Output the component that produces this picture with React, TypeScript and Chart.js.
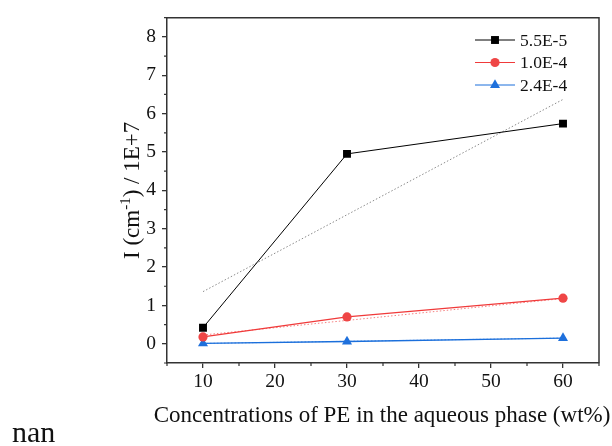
import { useEffect, useRef } from 'react';
import { Chart, registerables } from 'chart.js';

Chart.register(...registerables);

// PE concentration in the aqueous phase (wt%)
const concentrations = [10, 30, 60];
const seriesLabels = ['5.5E-5', '1.0E-4', '2.4E-4'];
// Intensity values, in units of 1E+7 cm^-1
const intensity55E5 = [0.42, 4.95, 5.74];
const intensity10E4 = [0.18, 0.7, 1.19];
const intensity24E4 = [0.01, 0.06, 0.15];
// Linear trend lines (end points)
const fitRange = [10, 60];
const fit55E5 = [1.36, 6.37];
const fit10E4 = [0.23, 1.18];
const fit24E4 = [0.01, 0.15];

const xTickValues = [10, 20, 30, 40, 50, 60];
const xMinorTicks = [5, 15, 25, 35, 45, 55, 65];
const yTickValues = [0, 1, 2, 3, 4, 5, 6, 7, 8];
const yMinorTicks = [-0.5, 0.5, 1.5, 2.5, 3.5, 4.5, 5.5, 6.5, 7.5, 8.5];

const FONT = "'Liberation Serif', 'Times New Roman', serif";
const AXIS = '#333333';
const COLORS = ['#000000', '#F03A3A', '#1B6FDB'];
const MARKER_FILL = ['#000000', '#EF4646', '#1E70DC'];
const FIT_COLORS = ['#8a8a8a', '#F58080', '#6FA3E8'];
const POINT_STYLES = ['rect', 'circle', 'triangle'];
const POINT_RADII = [5.6, 4.6, 5.8];

const toPoints = (xs: number[], ys: number[]) => xs.map((x, i) => ({ x, y: ys[i] }));

function drawMarker(ctx: CanvasRenderingContext2D, style: string, x: number, y: number, r: number, color: string) {
  ctx.save();
  ctx.fillStyle = color;
  ctx.beginPath();
  if (style === 'rect') {
    const s = Math.SQRT1_2 * r;
    ctx.rect(x - s, y - s, 2 * s, 2 * s);
  } else if (style === 'circle') {
    ctx.arc(x, y, r, 0, Math.PI * 2);
  } else {
    for (let k = 0; k < 3; k++) {
      const a = -Math.PI / 2 + (k * 2 * Math.PI) / 3;
      const px = x + r * Math.cos(a);
      const py = y + r * Math.sin(a);
      if (k === 0) ctx.moveTo(px, py);
      else ctx.lineTo(px, py);
    }
    ctx.closePath();
  }
  ctx.fill();
  ctx.restore();
}

const decorations = {
  id: 'decorations',
  afterDraw(chart: any) {
    const { ctx, chartArea, scales } = chart;
    const { left, right, top, bottom } = chartArea;
    ctx.save();

    // frame on top and right
    ctx.strokeStyle = AXIS;
    ctx.lineWidth = 1.5;
    ctx.beginPath();
    ctx.moveTo(left, top);
    ctx.lineTo(right, top);
    ctx.lineTo(right, bottom);
    ctx.stroke();

    // minor ticks
    ctx.lineWidth = 1.2;
    ctx.beginPath();
    xMinorTicks.forEach((v) => {
      const px = scales.x.getPixelForValue(v);
      ctx.moveTo(px, bottom);
      ctx.lineTo(px, bottom + 3);
    });
    yMinorTicks.forEach((v) => {
      const py = scales.y.getPixelForValue(v);
      ctx.moveTo(left, py);
      ctx.lineTo(left - 3, py);
    });
    ctx.stroke();

    // x axis title
    ctx.fillStyle = '#111';
    ctx.font = `23px ${FONT}`;
    ctx.textAlign = 'center';
    ctx.textBaseline = 'alphabetic';
    ctx.fillText('Concentrations of PE in the aqueous phase (wt%)', (left + right) / 2 - 1, 422);

    // y axis title with superscript
    const partA = 'I (cm';
    const sup = '-1';
    const partB = ') / 1E+7';
    ctx.save();
    ctx.translate(139, (top + bottom) / 2);
    ctx.rotate(-Math.PI / 2);
    ctx.textAlign = 'left';
    ctx.font = `23px ${FONT}`;
    const wA = ctx.measureText(partA).width;
    const wB = ctx.measureText(partB).width;
    ctx.font = `15px ${FONT}`;
    const wS = ctx.measureText(sup).width;
    const total = wA + wS + wB;
    let cx = -total / 2;
    ctx.font = `23px ${FONT}`;
    ctx.fillText(partA, cx, 0);
    cx += wA;
    ctx.font = `15px ${FONT}`;
    ctx.fillText(sup, cx, -9);
    cx += wS;
    ctx.font = `23px ${FONT}`;
    ctx.fillText(partB, cx, 0);
    ctx.restore();

    // legend
    ctx.font = `17.5px ${FONT}`;
    ctx.textAlign = 'left';
    ctx.textBaseline = 'middle';
    seriesLabels.forEach((label, i) => {
      const y = 40 + i * 22.5;
      ctx.strokeStyle = COLORS[i];
      ctx.lineWidth = 1;
      ctx.beginPath();
      ctx.moveTo(475, y);
      ctx.lineTo(515, y);
      ctx.stroke();
      drawMarker(ctx, POINT_STYLES[i], 495, y, POINT_RADII[i], MARKER_FILL[i]);
      ctx.fillStyle = '#111';
      ctx.fillText(label, 520, y + 1);
    });

    // stray label under the plot
    ctx.font = `30px ${FONT}`;
    ctx.textAlign = 'left';
    ctx.textBaseline = 'alphabetic';
    ctx.fillStyle = '#111';
    ctx.fillText('nan', 12, 442);

    ctx.restore();
  },
};

export default function App() {
  const canvasRef = useRef<HTMLCanvasElement | null>(null);

  useEffect(() => {
    if (!canvasRef.current) return;
    const seriesData = [intensity55E5, intensity10E4, intensity24E4];
    const fitData = [fit55E5, fit10E4, fit24E4];

    const mainSets = seriesData.map((ys, i) => ({
      label: seriesLabels[i],
      data: toPoints(concentrations, ys),
      borderColor: COLORS[i],
      backgroundColor: MARKER_FILL[i],
      borderWidth: i === 0 ? 1 : 1.3,
      pointStyle: POINT_STYLES[i],
      pointRadius: POINT_RADII[i],
      pointBorderWidth: 0,
      pointBackgroundColor: MARKER_FILL[i],
      pointBorderColor: MARKER_FILL[i],
      tension: 0,
      order: 1,
    }));
    const fitSets = fitData.map((ys, i) => ({
      label: `${seriesLabels[i]} fit`,
      data: toPoints(fitRange, ys),
      borderColor: FIT_COLORS[i],
      borderWidth: 1,
      borderDash: [1.5, 2],
      pointRadius: 0,
      tension: 0,
      order: 2,
    }));

    const tickFont = { family: FONT, size: 19.5 };

    const chart = new Chart(canvasRef.current, {
      type: 'line',
      data: { datasets: [...fitSets, ...mainSets] as any },
      options: {
        animation: false,
        responsive: false,
        devicePixelRatio: 1,
        layout: { padding: { left: 0, right: 13, top: 15, bottom: 0 } },
        plugins: { legend: { display: false }, tooltip: { enabled: false } },
        scales: {
          x: {
            type: 'linear',
            min: 5,
            max: 65,
            afterBuildTicks: (scale: any) => {
              scale.ticks = xTickValues.map((value) => ({ value }));
            },
            afterFit: (scale: any) => {
              scale.height = 83;
            },
            grid: {
              drawOnChartArea: false,
              drawTicks: true,
              tickLength: 5,
              color: AXIS,
              lineWidth: 1.3,
            },
            border: { display: true, color: AXIS, width: 1.5 },
            ticks: { font: tickFont, color: '#111', padding: 2, maxRotation: 0 },
          },
          y: {
            type: 'linear',
            min: -0.5,
            max: 8.5,
            afterBuildTicks: (scale: any) => {
              scale.ticks = yTickValues.map((value) => ({ value }));
            },
            afterFit: (scale: any) => {
              scale.width = 167;
            },
            grid: {
              drawOnChartArea: false,
              drawTicks: true,
              tickLength: 5,
              color: AXIS,
              lineWidth: 1.3,
            },
            border: { display: true, color: AXIS, width: 1.5 },
            ticks: { font: tickFont, color: '#111', padding: 6 },
          },
        },
      },
      plugins: [decorations],
    });

    return () => chart.destroy();
  }, []);

  return (
    <div style={{ position: 'fixed', left: 0, top: 0, width: 612, height: 446, background: '#fff' }}>
      <canvas ref={canvasRef} width={612} height={446} />
    </div>
  );
}
